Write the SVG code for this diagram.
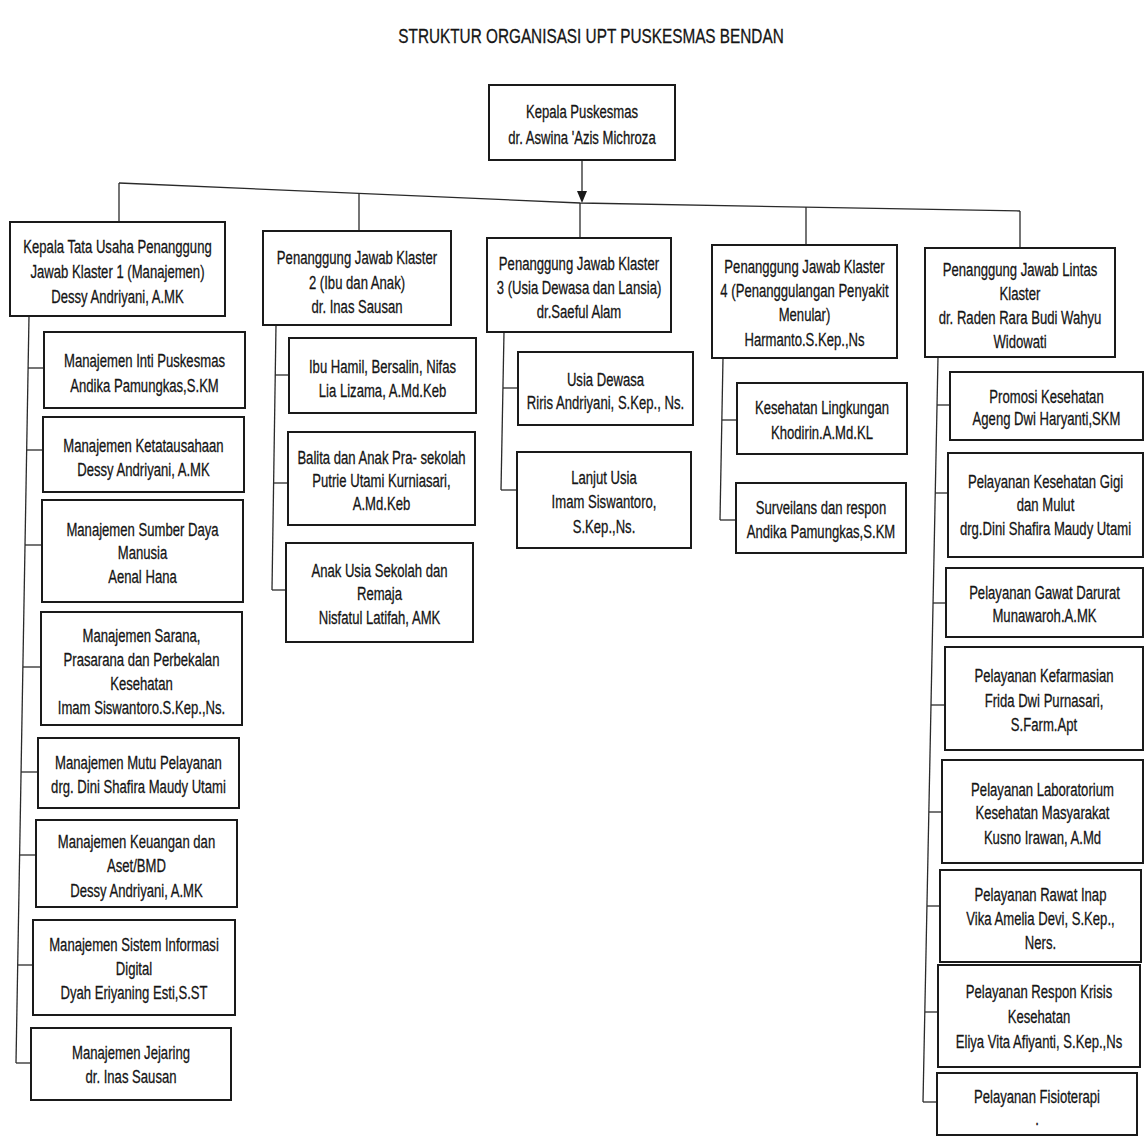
<svg xmlns="http://www.w3.org/2000/svg" width="1146" height="1138" viewBox="0 0 1146 1138">
<style>
.bg{fill:#ffffff}
.box{fill:#ffffff;stroke:#1a1a1a;stroke-width:2}
.t{font-family:"Liberation Sans",Arial,sans-serif;font-size:19px;fill:#151515;stroke:#151515;stroke-width:0.3;text-anchor:middle}
.title{font-family:"Liberation Sans",Arial,sans-serif;font-size:21px;fill:#151515;stroke:#151515;stroke-width:0.3;text-anchor:middle}
.c{fill:none;stroke:#2a2a2a;stroke-width:1.3}
</style>
<rect class="bg" x="0" y="0" width="1146" height="1138"/>
<g transform="translate(591 0) scale(0.73 1)"><text class="title" x="0" y="43">STRUKTUR ORGANISASI UPT PUSKESMAS BENDAN</text></g>

<g id="connectors">
<line class="c" x1="582" y1="160" x2="582" y2="196"/>
<path d="M577,191 L587,191 L582,203 Z" fill="#1a1a1a"/>
<polyline class="c" points="119,183 580,203 1020,211"/>
<line class="c" x1="119" y1="183" x2="119" y2="222"/>
<line class="c" x1="359" y1="193" x2="359" y2="231"/>
<line class="c" x1="580" y1="203" x2="580" y2="238"/>
<line class="c" x1="806" y1="207" x2="806" y2="245"/>
<line class="c" x1="1020" y1="211" x2="1020" y2="248"/>
<line class="c" x1="29" y1="316" x2="16" y2="1063"/>
<line class="c" x1="28" y1="368" x2="44" y2="368"/>
<line class="c" x1="27" y1="450" x2="43" y2="450"/>
<line class="c" x1="25" y1="545" x2="42" y2="545"/>
<line class="c" x1="23" y1="667" x2="41" y2="667"/>
<line class="c" x1="21" y1="772" x2="38" y2="772"/>
<line class="c" x1="19.5" y1="855" x2="36" y2="855"/>
<line class="c" x1="17.7" y1="965" x2="33" y2="965"/>
<line class="c" x1="16" y1="1063" x2="31" y2="1063"/>
<line class="c" x1="276" y1="325" x2="272" y2="590"/>
<line class="c" x1="275" y1="375" x2="289" y2="375"/>
<line class="c" x1="274" y1="483" x2="288" y2="483"/>
<line class="c" x1="272" y1="590" x2="286" y2="590"/>
<line class="c" x1="504" y1="332" x2="501" y2="490"/>
<line class="c" x1="503" y1="388" x2="518" y2="388"/>
<line class="c" x1="501" y1="490" x2="517" y2="490"/>
<line class="c" x1="723" y1="358" x2="720" y2="520"/>
<line class="c" x1="722" y1="420" x2="737" y2="420"/>
<line class="c" x1="720" y1="520" x2="736" y2="520"/>
<line class="c" x1="938" y1="357" x2="923" y2="1102"/>
<line class="c" x1="937" y1="405" x2="950" y2="405"/>
<line class="c" x1="935" y1="493" x2="948" y2="493"/>
<line class="c" x1="933" y1="603" x2="946" y2="603"/>
<line class="c" x1="931" y1="705" x2="945" y2="705"/>
<line class="c" x1="929" y1="812" x2="942" y2="812"/>
<line class="c" x1="927" y1="906" x2="940" y2="906"/>
<line class="c" x1="925" y1="1012" x2="938" y2="1012"/>
<line class="c" x1="923" y1="1102" x2="937" y2="1102"/>
</g>

<g id="kepala">
<rect class="box" x="489" y="85" width="186" height="75"/>
<g transform="translate(582 0) scale(0.69 1)">
<text class="t" x="0" y="118">Kepala Puskesmas</text>
<text class="t" x="0" y="144">dr. Aswina 'Azis Michroza</text>
</g></g>

<g id="klaster1">
<rect class="box" x="10" y="222" width="215" height="94"/>
<g transform="translate(117.5 0) scale(0.69 1)">
<text class="t" x="0" y="253">Kepala Tata Usaha Penanggung</text>
<text class="t" x="0" y="278">Jawab Klaster 1 (Manajemen)</text>
<text class="t" x="0" y="303">Dessy Andriyani, A.MK</text>
</g></g>
<g id="klaster2">
<rect class="box" x="263" y="231" width="188" height="94"/>
<g transform="translate(357 0) scale(0.69 1)">
<text class="t" x="0" y="264">Penanggung Jawab Klaster</text>
<text class="t" x="0" y="289">2 (Ibu dan Anak)</text>
<text class="t" x="0" y="313">dr. Inas Sausan</text>
</g></g>
<g id="klaster3">
<rect class="box" x="487" y="238" width="184" height="94"/>
<g transform="translate(579 0) scale(0.69 1)">
<text class="t" x="0" y="270">Penanggung Jawab Klaster</text>
<text class="t" x="0" y="294">3 (Usia Dewasa dan Lansia)</text>
<text class="t" x="0" y="318">dr.Saeful Alam</text>
</g></g>
<g id="klaster4">
<rect class="box" x="712" y="245" width="185" height="113"/>
<g transform="translate(804.5 0) scale(0.69 1)">
<text class="t" x="0" y="273">Penanggung Jawab Klaster</text>
<text class="t" x="0" y="297">4 (Penanggulangan Penyakit</text>
<text class="t" x="0" y="321">Menular)</text>
<text class="t" x="0" y="346">Harmanto.S.Kep.,Ns</text>
</g></g>
<g id="lintas">
<rect class="box" x="925" y="248" width="190" height="109"/>
<g transform="translate(1020 0) scale(0.69 1)">
<text class="t" x="0" y="276">Penanggung Jawab Lintas</text>
<text class="t" x="0" y="300">Klaster</text>
<text class="t" x="0" y="324">dr. Raden Rara Budi Wahyu</text>
<text class="t" x="0" y="348">Widowati</text>
</g></g>

<g id="k1-inti">
<rect class="box" x="44" y="332" width="201" height="76"/>
<g transform="translate(144.5 0) scale(0.69 1)">
<text class="t" x="0" y="367">Manajemen Inti Puskesmas</text>
<text class="t" x="0" y="392">Andika Pamungkas,S.KM</text>
</g></g>
<g id="k1-ketatausahaan">
<rect class="box" x="43" y="417" width="201" height="75"/>
<g transform="translate(143.5 0) scale(0.69 1)">
<text class="t" x="0" y="452">Manajemen Ketatausahaan</text>
<text class="t" x="0" y="476">Dessy Andriyani, A.MK</text>
</g></g>
<g id="k1-sdm">
<rect class="box" x="42" y="500" width="201" height="102"/>
<g transform="translate(142.5 0) scale(0.69 1)">
<text class="t" x="0" y="536">Manajemen Sumber Daya</text>
<text class="t" x="0" y="559">Manusia</text>
<text class="t" x="0" y="583">Aenal Hana</text>
</g></g>
<g id="k1-sarana">
<rect class="box" x="41" y="612" width="201" height="113"/>
<g transform="translate(141.5 0) scale(0.69 1)">
<text class="t" x="0" y="642">Manajemen Sarana,</text>
<text class="t" x="0" y="666">Prasarana dan Perbekalan</text>
<text class="t" x="0" y="690">Kesehatan</text>
<text class="t" x="0" y="714">Imam Siswantoro.S.Kep.,Ns.</text>
</g></g>
<g id="k1-mutu">
<rect class="box" x="38" y="738" width="201" height="70"/>
<g transform="translate(138.5 0) scale(0.69 1)">
<text class="t" x="0" y="769">Manajemen Mutu Pelayanan</text>
<text class="t" x="0" y="793">drg. Dini Shafira Maudy Utami</text>
</g></g>
<g id="k1-keuangan">
<rect class="box" x="36" y="820" width="201" height="87"/>
<g transform="translate(136.5 0) scale(0.69 1)">
<text class="t" x="0" y="848">Manajemen Keuangan dan</text>
<text class="t" x="0" y="872">Aset/BMD</text>
<text class="t" x="0" y="897">Dessy Andriyani, A.MK</text>
</g></g>
<g id="k1-sid">
<rect class="box" x="33" y="920" width="202" height="95"/>
<g transform="translate(134 0) scale(0.69 1)">
<text class="t" x="0" y="951">Manajemen Sistem Informasi</text>
<text class="t" x="0" y="975">Digital</text>
<text class="t" x="0" y="999">Dyah Eriyaning Esti,S.ST</text>
</g></g>
<g id="k1-jejaring">
<rect class="box" x="31" y="1028" width="200" height="72"/>
<g transform="translate(131 0) scale(0.69 1)">
<text class="t" x="0" y="1059">Manajemen Jejaring</text>
<text class="t" x="0" y="1083">dr. Inas Sausan</text>
</g></g>

<g id="k2-ibu">
<rect class="box" x="289" y="338" width="187" height="75"/>
<g transform="translate(382.5 0) scale(0.69 1)">
<text class="t" x="0" y="373">Ibu Hamil, Bersalin, Nifas</text>
<text class="t" x="0" y="397">Lia Lizama, A.Md.Keb</text>
</g></g>
<g id="k2-balita">
<rect class="box" x="288" y="432" width="187" height="93"/>
<g transform="translate(381.5 0) scale(0.69 1)">
<text class="t" x="0" y="464">Balita dan Anak Pra- sekolah</text>
<text class="t" x="0" y="487">Putrie Utami Kurniasari,</text>
<text class="t" x="0" y="510">A.Md.Keb</text>
</g></g>
<g id="k2-sekolah">
<rect class="box" x="286" y="543" width="187" height="99"/>
<g transform="translate(379.5 0) scale(0.69 1)">
<text class="t" x="0" y="577">Anak Usia Sekolah dan</text>
<text class="t" x="0" y="600">Remaja</text>
<text class="t" x="0" y="624">Nisfatul Latifah, AMK</text>
</g></g>

<g id="k3-dewasa">
<rect class="box" x="518" y="352" width="175" height="73"/>
<g transform="translate(605.5 0) scale(0.69 1)">
<text class="t" x="0" y="386">Usia Dewasa</text>
<text class="t" x="0" y="409">Riris Andriyani, S.Kep., Ns.</text>
</g></g>
<g id="k3-lansia">
<rect class="box" x="517" y="452" width="174" height="96"/>
<g transform="translate(604 0) scale(0.69 1)">
<text class="t" x="0" y="484">Lanjut Usia</text>
<text class="t" x="0" y="508">Imam Siswantoro,</text>
<text class="t" x="0" y="533">S.Kep.,Ns.</text>
</g></g>

<g id="k4-kesling">
<rect class="box" x="737" y="383" width="170" height="71"/>
<g transform="translate(822 0) scale(0.69 1)">
<text class="t" x="0" y="414">Kesehatan Lingkungan</text>
<text class="t" x="0" y="439">Khodirin.A.Md.KL</text>
</g></g>
<g id="k4-surveilans">
<rect class="box" x="736" y="483" width="170" height="70"/>
<g transform="translate(821 0) scale(0.69 1)">
<text class="t" x="0" y="514">Surveilans dan respon</text>
<text class="t" x="0" y="538">Andika Pamungkas,S.KM</text>
</g></g>

<g id="l-promkes">
<rect class="box" x="950" y="372" width="193" height="68"/>
<g transform="translate(1046.5 0) scale(0.69 1)">
<text class="t" x="0" y="403">Promosi Kesehatan</text>
<text class="t" x="0" y="425">Ageng Dwi Haryanti,SKM</text>
</g></g>
<g id="l-gigi">
<rect class="box" x="948" y="453" width="195" height="104"/>
<g transform="translate(1045.5 0) scale(0.69 1)">
<text class="t" x="0" y="488">Pelayanan Kesehatan Gigi</text>
<text class="t" x="0" y="511">dan Mulut</text>
<text class="t" x="0" y="535">drg.Dini Shafira Maudy Utami</text>
</g></g>
<g id="l-gawat">
<rect class="box" x="946" y="568" width="197" height="69"/>
<g transform="translate(1044.5 0) scale(0.69 1)">
<text class="t" x="0" y="599">Pelayanan Gawat Darurat</text>
<text class="t" x="0" y="622">Munawaroh.A.MK</text>
</g></g>
<g id="l-farmasi">
<rect class="box" x="945" y="647" width="198" height="103"/>
<g transform="translate(1044 0) scale(0.69 1)">
<text class="t" x="0" y="682">Pelayanan Kefarmasian</text>
<text class="t" x="0" y="707">Frida Dwi Purnasari,</text>
<text class="t" x="0" y="731">S.Farm.Apt</text>
</g></g>
<g id="l-lab">
<rect class="box" x="942" y="760" width="201" height="103"/>
<g transform="translate(1042.5 0) scale(0.69 1)">
<text class="t" x="0" y="796">Pelayanan Laboratorium</text>
<text class="t" x="0" y="819">Kesehatan Masyarakat</text>
<text class="t" x="0" y="844">Kusno Irawan, A.Md</text>
</g></g>
<g id="l-ranap">
<rect class="box" x="940" y="870" width="201" height="92"/>
<g transform="translate(1040.5 0) scale(0.69 1)">
<text class="t" x="0" y="901">Pelayanan Rawat Inap</text>
<text class="t" x="0" y="925">Vika Amelia Devi, S.Kep.,</text>
<text class="t" x="0" y="949">Ners.</text>
</g></g>
<g id="l-krisis">
<rect class="box" x="938" y="965" width="202" height="102"/>
<g transform="translate(1039 0) scale(0.69 1)">
<text class="t" x="0" y="998">Pelayanan Respon Krisis</text>
<text class="t" x="0" y="1023">Kesehatan</text>
<text class="t" x="0" y="1048">Eliya Vita Afiyanti, S.Kep.,Ns</text>
</g></g>
<g id="l-fisio">
<rect class="box" x="937" y="1073" width="200" height="62"/>
<g transform="translate(1037 0) scale(0.69 1)">
<text class="t" x="0" y="1103">Pelayanan Fisioterapi</text>
<text class="t" x="0" y="1125">.</text>
</g></g>
</svg>
